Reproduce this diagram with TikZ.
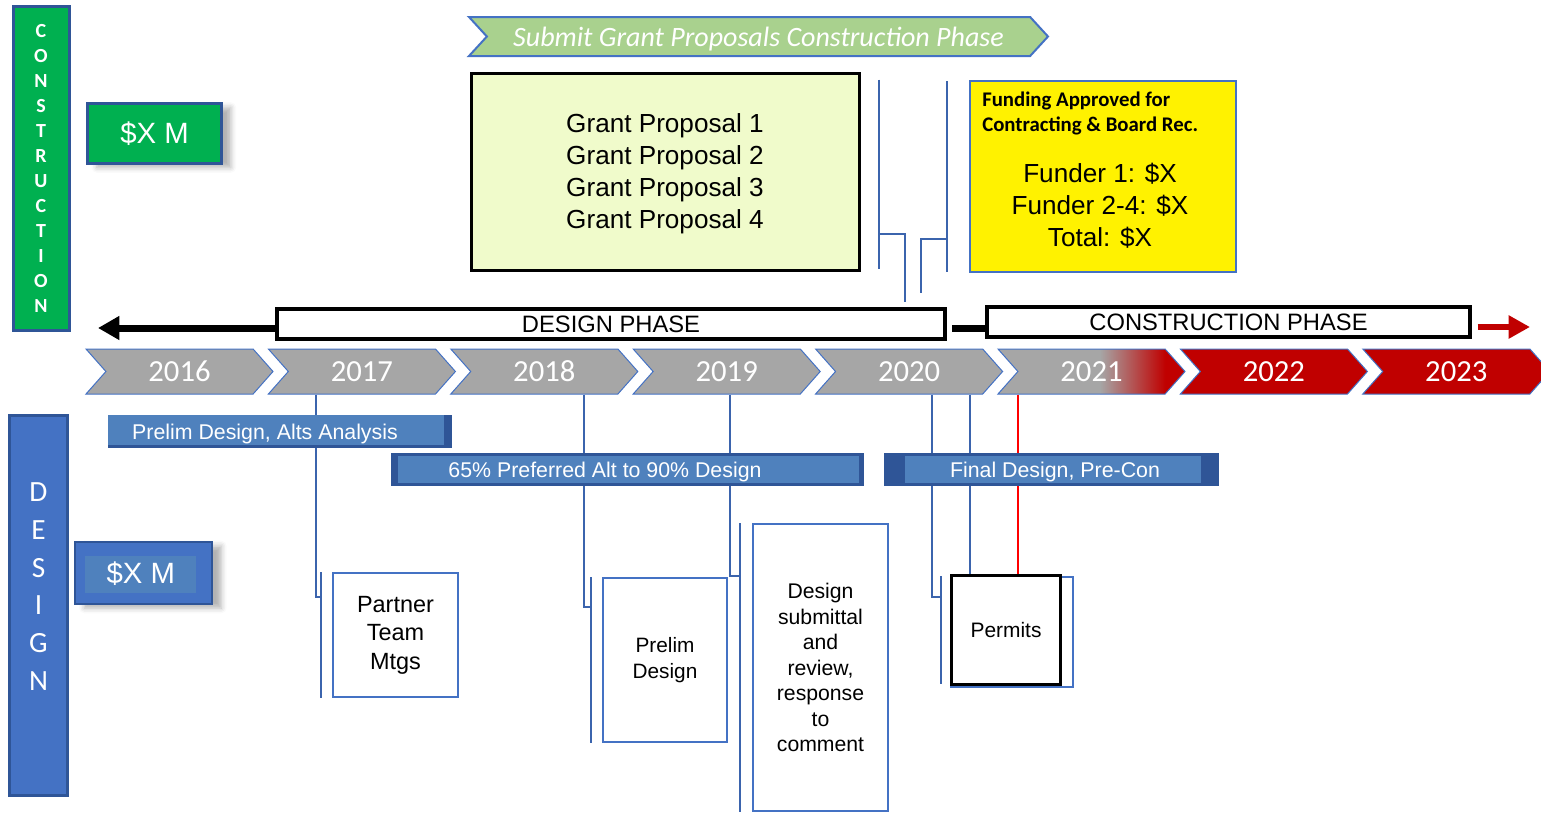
\documentclass[tikz,border=0pt]{standalone}
\usepackage{fontspec}
\setmainfont{Liberation Sans}
\newfontfamily\calibri{Carlito}
\usetikzlibrary{shapes.symbols,arrows.meta,shadows.blur}
\definecolor{edgeblue}{HTML}{4472C4}
\definecolor{darkblue}{HTML}{2F5597}
\definecolor{barblue}{HTML}{4F81BD}
\definecolor{leadblue}{HTML}{3B64AD}
\definecolor{cgreen}{HTML}{00B050}
\definecolor{lgreen}{HTML}{A9D18E}
\definecolor{chevgray}{HTML}{A6A6A6}
\definecolor{crimson}{HTML}{C00000}
\definecolor{pale}{HTML}{F0FBCB}
\begin{document}
\begin{tikzpicture}[x=0.75pt,y=-0.75pt,
  box/.style={draw=edgeblue,line width=1.5pt,fill=white,inner sep=0pt,align=center},
  lead/.style={draw=leadblue,line width=1.5pt},
  chev/.style={signal,signal from=west,signal to=east,signal pointer angle=97,draw=edgeblue,line width=0.75pt,text=white,inner sep=0pt,
    minimum width=187*.75pt,minimum height=45*.75pt,font=\calibri\fontsize{23}{27}\selectfont},
  gy/.style={fill=chevgray}, rd/.style={fill=crimson},
  fade/.style={fill=chevgray,path picture={
    \fill[crimson] ([xshift=125pt]path picture bounding box.south west) rectangle (path picture bounding box.north east);
    \shade[left color=chevgray,right color=crimson] ([xshift=76.5pt]path picture bounding box.south west) rectangle ([xshift=125.5pt]path picture bounding box.north west);}},
  bar/.style n args={4}{fill=darkblue,minimum height=33*.75pt,inner sep=0pt,path picture={
    \fill[barblue] ([shift={(#1*.75pt,-#2*.75pt)}]path picture bounding box.north west) rectangle ([shift={(-#3*.75pt,#4*.75pt)}]path picture bounding box.south east);}},
  bartext/.style={text=white,text depth=0pt,font=\fontsize{16}{19}\selectfont},
  phase/.style={draw=black,line width=3.4pt,fill=white,minimum height=30*.75pt,font=\fontsize{17.8}{21}\selectfont},
  soft/.style={blur shadow={shadow xshift=7pt,shadow yshift=-3pt,shadow opacity=30,shadow blur radius=4pt}}]
\useasboundingbox (0,0) rectangle (1541,814);

% side labels
\node[draw=darkblue,line width=2.25pt,fill=cgreen,minimum width=56*.75pt,minimum height=324*.75pt,text=white,align=center,
  font=\calibri\bfseries\fontsize{15}{18.75}\selectfont] (con) at (41,168) {C\\O\\N\\S\\T\\R\\U\\C\\T\\I\\O\\N};
\node[soft,draw=darkblue,line width=2.25pt,fill=cgreen,minimum width=134*.75pt,minimum height=60*.75pt,text=white,
  font=\fontsize{22}{26}\selectfont] (conm) at (154.5,133.5) {\$X M};
\node[draw=darkblue,line width=2.25pt,fill=edgeblue,minimum width=58*.75pt,minimum height=380*.75pt] (dsg) at (38.5,605) {};
\node[text=white,align=center,font=\calibri\fontsize{22}{28.35}\selectfont] (dsgt) at (38.5,586.5) {D\\E\\S\\I\\G\\N};
\node[soft,bar={10}{14}{16}{11},fill=edgeblue,draw=darkblue,line width=1.5pt,minimum width=137*.75pt,minimum height=62*.75pt,text=white,
  text depth=0pt,font=\fontsize{22}{26}\selectfont] (dsgm) at (143.5,573) {\$X M\hspace*{4pt}};

% construction funding
\node[signal,signal from=west,signal to=east,signal pointer angle=95,draw=edgeblue,line width=1.5pt,fill=lgreen,inner sep=0pt,
  minimum width=579*.75pt,minimum height=39*.75pt,text=white,text depth=0pt,font=\calibri\itshape\fontsize{21}{24}\selectfont] (sgp) at (758.5,36.5)
  {Submit Grant Proposals Construction Phase};
\node[draw=black,line width=2.25pt,fill=pale,minimum width=388*.75pt,minimum height=197*.75pt,align=center,text depth=0pt,
  font=\fontsize{19.6}{24}\selectfont] (grant) at (665,171.5) {Grant Proposal 1\\Grant Proposal 2\\Grant Proposal 3\\Grant Proposal 4};
\node[draw=edgeblue,line width=1.5pt,fill=yellow,minimum width=266*.75pt,minimum height=191*.75pt] (fund) at (1103,176.5) {};
\node[anchor=north west,align=left,inner sep=0pt,font=\calibri\bfseries\fontsize{15.6}{18.75}\selectfont] (fundhd)
  at ([xshift=9.75pt,yshift=-8.75pt]fund.north west) {Funding Approved for\\Contracting \& Board Rec.};
\node[align=center,font=\fontsize{19.6}{24}\selectfont] (funds) at (1100,206) {Funder 1: \$X\\Funder 2-4: \$X\\Total: \$X};

% phases
\node[phase,minimum width=668*.75pt] (dphase) at (611,324) {DESIGN PHASE};
\node[phase,minimum width=483*.75pt] (cphase) at (1228.5,322) {CONSTRUCTION PHASE};
\coordinate (dtip) at (98,328);
\coordinate (rtip) at (1530,327);
\draw[line width=5.25pt,-{Triangle[length=16pt,width=17pt]}] ([yshift=-3pt]dphase.west) -- (dtip);
\draw[line width=5.25pt] ([xshift=3.75pt,yshift=-3pt]dphase.east) -- ([yshift=-4.5pt]cphase.west);
\draw[crimson,line width=4.5pt,-{Triangle[length=16pt,width=16.5pt]}] ([xshift=4pt,yshift=-3.75pt]cphase.east) -- (rtip);

% years
\foreach \yr/\st [count=\i from 0] in {2016/gy,2017/gy,2018/gy,2019/gy,2020/gy,2021/fade,2022/rd,2023/rd}
  \node[chev,\st] (y\yr) at ({179.5+182.4*\i},371.5) {\yr};

% callouts
\node[box,minimum width=125*.75pt,minimum height=124*.75pt,font=\fontsize{17.6}{21.4}\selectfont] (ptm) at (395.5,635) {Partner\\Team\\Mtgs};
\node[box,minimum width=124*.75pt,minimum height=164*.75pt,font=\fontsize{15.6}{19}\selectfont] (pdm) at (665,660) {Prelim\\Design};
\node[box,minimum width=135*.75pt,minimum height=287*.75pt,text depth=0pt,font=\fontsize{15.9}{19.1}\selectfont] (dsm) at (820.5,667.5)
  {Design\\submittal\\and\\review,\\response\\to\\comment};
\node[box,minimum width=122*.75pt,minimum height=110*.75pt] (prmb) at (1012,632) {};
\node[draw=black,line width=2.25pt,fill=white,minimum width=109*.75pt,minimum height=109*.75pt,text depth=0pt,
  font=\fontsize{15.7}{19}\selectfont] (prm) at (1006,630) {Permits};

% leaders
\draw[lead] (y2017.south -| 316,0) |- ([xshift=-8.25pt,yshift=28.5pt]ptm.west);
\draw[lead] ([xshift=-8.25pt]ptm.north west) -- ([xshift=-8.25pt]ptm.south west);
\draw[lead] (y2018.south -| 584,0) |- ([xshift=-8.25pt,yshift=39.75pt]pdm.west);
\draw[lead] ([xshift=-8.25pt]pdm.north west) -- ([xshift=-8.25pt]pdm.south west);
\draw[lead] (y2019.south -| 730,0) |- ([xshift=-9pt,yshift=68.6pt]dsm.west);
\draw[lead] ([xshift=-9pt]dsm.north west) -- ([xshift=-9pt]dsm.south west);
\draw[lead] (y2020.south -| 932,0) |- ([xshift=-6.75pt,yshift=24.75pt]prm.west);
\draw[lead] ([xshift=-6.75pt,yshift=-1.5pt]prm.north west) -- ([xshift=-6.75pt,yshift=1.5pt]prm.south west);
\draw[lead] (y2020.south -| 970,0) -- (prm.north -| 970,0);
\draw[red,line width=1.5pt] (y2021.south -| 1018,0) -- (prm.north -| 1018,0);
\coordinate (gend) at (905,302);
\coordinate (fend) at (921,293);
\draw[lead] ([xshift=13.5pt,yshift=-6pt]grant.north east) -- ([xshift=13.5pt,yshift=2.25pt]grant.south east);
\draw[lead] ([xshift=13.5pt,yshift=-46.9pt]grant.east) -| (gend);
\draw[lead] ([xshift=-16.5pt,yshift=-0.75pt]fund.north west) -- ([xshift=-16.5pt,yshift=0.75pt]fund.south west);
\draw[lead] ([xshift=-16.5pt,yshift=-46.9pt]fund.west) -| (fend);

% bars
\node[bar={0}{0}{8}{3},minimum width=344*.75pt] (pda) at (279.5,431.5) {};
\node[bartext] (pdat) at (265,432) {Prelim Design, Alts Analysis};
\node[bar={7}{3}{5}{3},minimum width=473*.75pt] (pref) at (627.5,469.5) {};
\node[bartext] (preft) at (605,470) {65\% Preferred Alt to 90\% Design};
\node[bar={21}{3}{18}{3},minimum width=335*.75pt] (fdp) at (1051.5,469.5) {};
\node[bartext] (fdpt) at (1055,470) {Final Design, Pre-Con};
\end{tikzpicture}
\end{document}
